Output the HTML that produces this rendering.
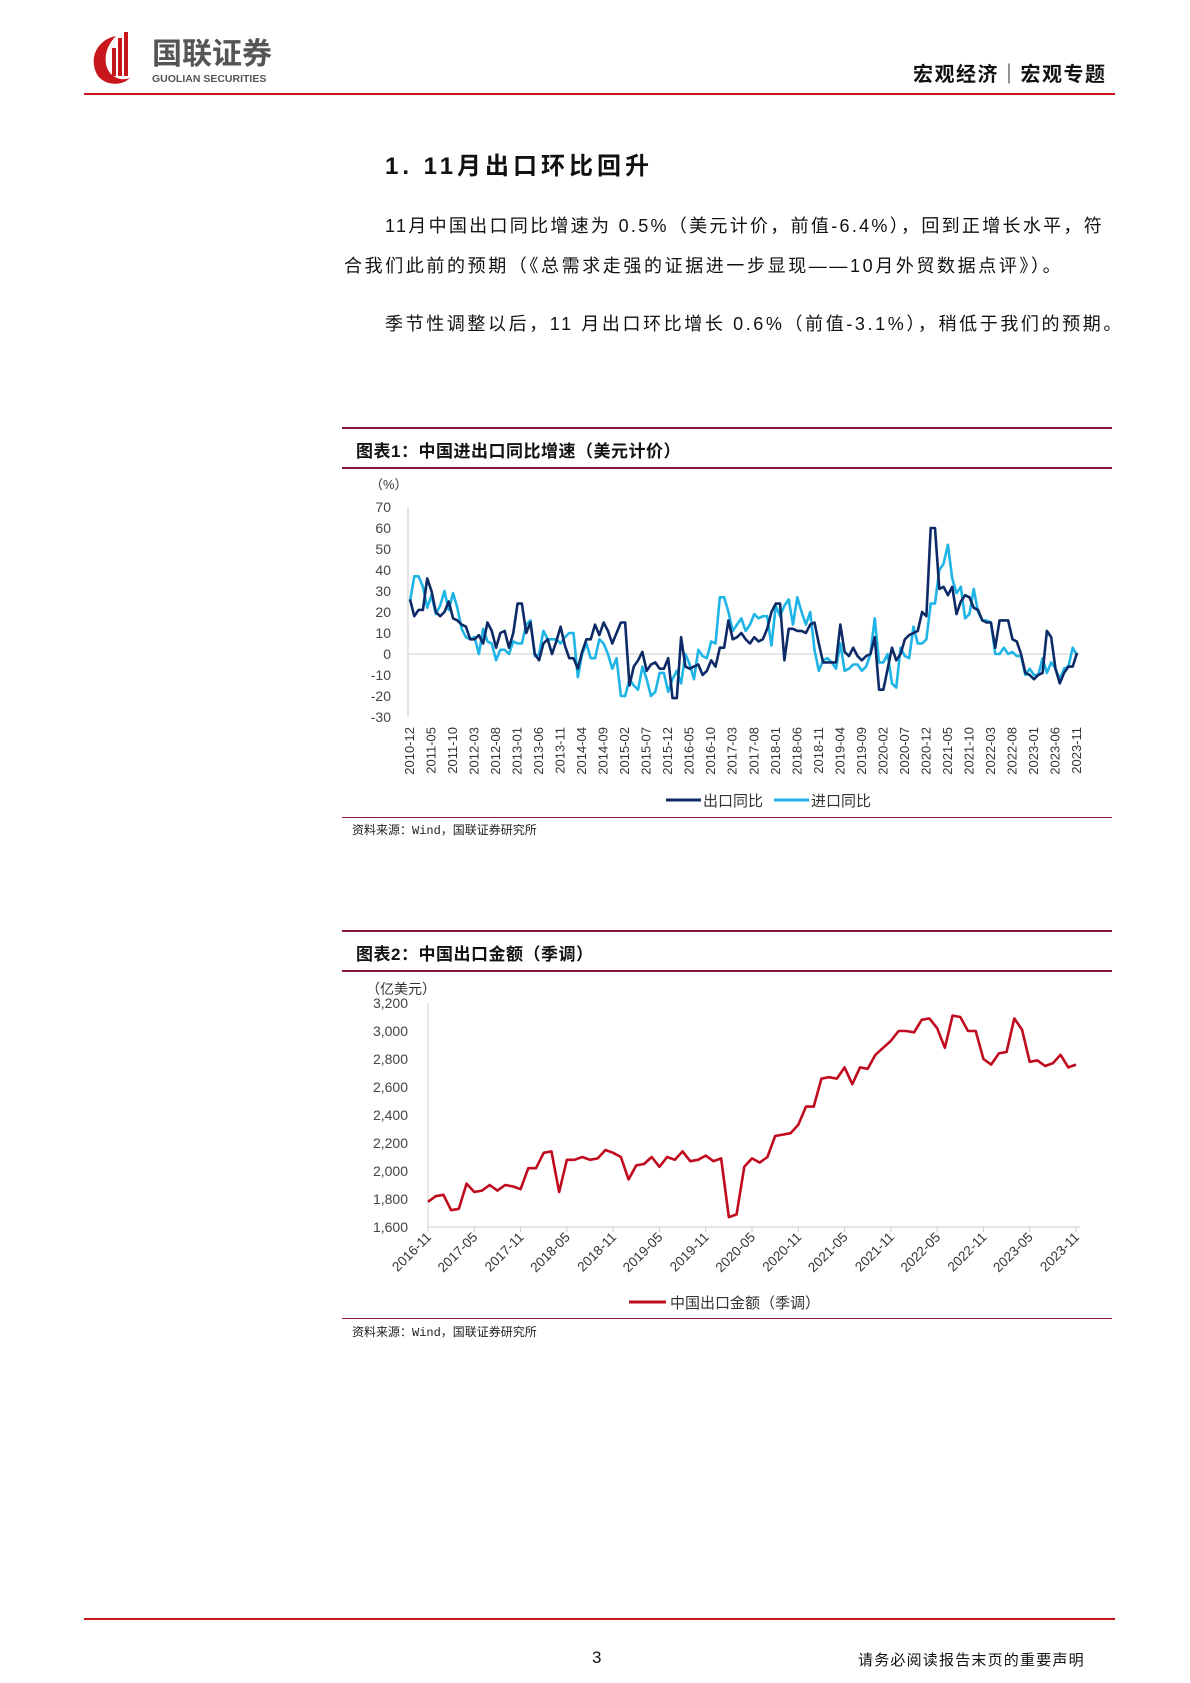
<!DOCTYPE html>
<html><head><meta charset="utf-8">
<style>
body{margin:0;background:#fff;}
#page{position:relative;width:1190px;height:1683px;overflow:hidden;background:#fff;font-family:"Liberation Sans","Noto Sans CJK SC",sans-serif;color:#111;}
.abs{position:absolute;}
.p{font-size:18px;letter-spacing:2.3px;white-space:nowrap;}
.rule{position:absolute;left:342px;width:770px;height:1.5px;background:#8b1a3a;}
.ctitle{position:absolute;left:356px;font-size:17px;font-weight:bold;letter-spacing:0.5px;}
.src{position:absolute;left:352px;font-size:12px;font-family:"Liberation Mono","Noto Sans CJK SC",monospace;color:#222;}
</style></head>
<body><div id="page">
<svg class="abs" style="left:86px;top:30px" width="220" height="60">
<path d="M30 6 C10 10 2 30 12 46 C20 56 36 56 44 48 C34 52 22 46 20 34 C18 22 24 12 30 6Z" fill="#c8161d"/>
<rect x="32" y="8" width="4" height="38" fill="#c8161d"/><rect x="38" y="2" width="4" height="44" fill="#c8161d"/><rect x="26" y="18" width="4" height="28" fill="#c8161d"/>
<text x="66" y="34" font-size="30" font-weight="bold" fill="#555" font-family="Noto Sans CJK SC,sans-serif">国联证券</text>
<text x="66" y="52" font-size="10.5" font-weight="bold" fill="#555" font-family="Liberation Sans,sans-serif">GUOLIAN SECURITIES</text>
</svg>
<div class="abs" style="left:913px;top:58px;font-size:20px;font-weight:bold;letter-spacing:1.5px">宏观经济｜宏观专题</div>
<div class="abs" style="left:84px;top:93px;width:1031px;height:2px;background:#c8161d"></div>
<div class="abs" style="left:385px;top:146px;font-size:24px;font-weight:bold;letter-spacing:4px">1. 11月出口环比回升</div>
<div class="abs p" style="left:385px;top:212px">11月中国出口同比增速为 0.5%（美元计价，前值-6.4%），回到正增长水平，符</div>
<div class="abs p" style="left:344px;top:252px;letter-spacing:2.6px">合我们此前的预期（《总需求走强的证据进一步显现——10月外贸数据点评》）。</div>
<div class="abs p" style="left:385px;top:310px;letter-spacing:2.6px">季节性调整以后，11 月出口环比增长 0.6%（前值-3.1%），稍低于我们的预期。</div>

<div class="rule" style="top:427px"></div>
<div class="ctitle" style="top:437px">图表1：中国进出口同比增速（美元计价）</div>
<div class="rule" style="top:467px"></div>
<svg id="c1" class="abs" style="left:0;top:0" width="1190" height="830"></svg>
<div class="rule" style="top:817px;height:1px"></div>
<div class="src" style="top:821px">资料来源：Wind，国联证券研究所</div>

<div class="rule" style="top:930px"></div>
<div class="ctitle" style="top:940px">图表2：中国出口金额（季调）</div>
<div class="rule" style="top:970px"></div>
<svg id="c2" class="abs" style="left:0;top:0" width="1190" height="1330"></svg>
<div class="rule" style="top:1318px;height:1px"></div>
<div class="src" style="top:1323px">资料来源：Wind，国联证券研究所</div>

<div class="abs" style="left:84px;top:1618px;width:1031px;height:1.5px;background:#c8161d"></div>
<div class="abs" style="left:592px;top:1648px;font-size:17px">3</div>
<div class="abs" style="left:858px;top:1649px;font-size:15px;letter-spacing:1.2px">请务必阅读报告末页的重要声明</div>
</div>
<script>
const exportYoY=[26,
18,21,21,36,30,20,18,20,25,17,16,14,
13,7,7,9,5,15,11,3,10,11,3,10,
24,24,10,15,0,-3,5,7,0,6,13,4,
-2,-2,-7,1,7,7,14,9,15,11,5,10,
15,15,-15,-6,-3,1,-8,-5,-4,-7,-7,-2,
-21,-21,8,-6,-7,-6,-5,-10,-8,-3,-6,3,
3,16,7,8,10,7,5,8,6,7,12,20,
24,24,-3,12,12,11,11,10,14,15,5,-4,
-4,-4,-4,14,1,-1,3,-1,-3,-1,0,8,
-17,-17,-7,3,-3,0,7,9,10,11,20,18,
60,60,31,32,28,32,19,25,28,27,22,21,
16,15,15,3,16,16,16,7,6,0,-9,-10,
-12,-10,-9,11,8,-7,-14,-9,-6,-6,0.5];
const importYoY=[25,
37,37,32,22,28,19,23,30,21,29,22,12,
8,7,8,0,12,6,5,-3,2,2,0,6,
5,5,14,16,-1,0,11,7,7,7,5,8,
10,10,-11,0,5,-2,-2,7,5,0,-7,-2,
-20,-20,-12,-15,-17,-6,-12,-20,-18,-9,-9,-18,
-12,-8,-14,0,-5,-12,2,-1,-2,6,5,27,
27,20,11,14,17,11,14,19,17,18,18,4,
23,18,23,26,14,27,20,14,20,2,-8,-3,
-2,-4,-7,5,-8,-7,-5,-5,-8,-6,0,17,
-4,-4,0,-14,-16,3,-1,-2,13,5,5,7,
24,24,40,43,52,36,29,32,17,19,31,20,
16,16,15,0,0,3,0,1,-1,-1,-10,-7,
-10,-10,-2,-9,-4,-7,-12,-7,-6,3,-0.6];
const yTicks1=[70,60,50,40,30,20,10,0,-10,-20,-30];
const exportValue=[1780,1820,
1830,1720,1730,1910,1850,1860,1900,1860,1900,1890,1870,2020,
2020,2130,2140,1850,2080,2080,2100,2080,2090,2150,2130,2100,
1940,2040,2050,2100,2030,2100,2080,2140,2070,2080,2110,2070,
2090,1670,1690,2030,2090,2060,2100,2250,2260,2270,2330,2460,
2460,2660,2670,2660,2740,2620,2740,2730,2830,2880,2930,3000,
3000,2990,3080,3090,3020,2880,3110,3100,3000,3000,2800,2760,
2840,2850,3090,3010,2780,2790,2750,2770,2830,2740,2760];
const yTicks2=[3200,3000,2800,2600,2400,2200,2000,1800,1600];
const NS='http://www.w3.org/2000/svg';
function mk(svg,tag,attrs,txt){const e=document.createElementNS(NS,tag);for(const k in attrs)e.setAttribute(k,attrs[k]);if(txt!==undefined)e.textContent=txt;svg.appendChild(e);return e;}
function lbl(y,m){return y+'-'+String(m).padStart(2,'0');}
(function(){
const s=document.getElementById('c1');
const X=i=>410+i*(1077-410)/155, Y=v=>717-(v+30)*2.1;
const t=mk(s,'text',{x:370,y:489,'font-size':13,fill:'#333'},'（%）');


const ax=mk(s,'line',{x1:408,y1:Y(70),x2:408,y2:Y(-30),stroke:'#ccc'});


const z=mk(s,'line',{x1:408,y1:Y(0),x2:1080,y2:Y(0),stroke:'#ccc'});


yTicks1.forEach(v=>{const e=mk(s,'text',{x:391,y:Y(v)+5,'font-size':14,fill:'#444','text-anchor':'end'},v);

});
for(let i=0;i<156;i+=5){const mo=11+i,yr=2010+Math.floor(mo/12),m=mo%12+1;
const e=mk(s,'text',{x:0,y:0,'font-size':13,fill:'#333','text-anchor':'end',transform:`translate(${X(i)+4},${727}) rotate(-90)`},lbl(yr,m));

}
[[importYoY,'#1fb4e6','import-yoy-line'],[exportYoY,'#0d2a66','export-yoy-line']].forEach(([d,c,n])=>{
const p=mk(s,'polyline',{points:d.map((v,i)=>X(i)+','+Y(v)).join(' '),fill:'none',stroke:c,'stroke-width':2.6,'stroke-linejoin':'round'});

});
const l1=mk(s,'line',{x1:666,y1:800,x2:701,y2:800,stroke:'#0d2a66','stroke-width':3});


const t1=mk(s,'text',{x:703,y:806,'font-size':15,fill:'#333'},'出口同比');


const l2=mk(s,'line',{x1:774,y1:800,x2:809,y2:800,stroke:'#1fb4e6','stroke-width':3});


const t2=mk(s,'text',{x:811,y:806,'font-size':15,fill:'#333'},'进口同比');


})();
(function(){
const s=document.getElementById('c2');
const X=i=>428+i*(1076-428)/84, Y=v=>1227-(v-1600)*0.14;
const t=mk(s,'text',{x:366,y:994,'font-size':14,fill:'#333'},'（亿美元）');


const ax=mk(s,'line',{x1:428,y1:Y(3200),x2:428,y2:Y(1600),stroke:'#ccc'});


const bx=mk(s,'line',{x1:428,y1:Y(1600),x2:1080,y2:Y(1600),stroke:'#ccc'});


yTicks2.forEach(v=>{const e=mk(s,'text',{x:408,y:Y(v)+5,'font-size':14,fill:'#444','text-anchor':'end'},v.toLocaleString('en-US'));

});
for(let i=0;i<85;i+=6){const mo=10+i,yr=2016+Math.floor(mo/12),m=mo%12+1;
const tk=mk(s,'line',{x1:X(i),y1:1227,x2:X(i),y2:1232,stroke:'#ccc'});


const e=mk(s,'text',{x:0,y:0,'font-size':13.5,fill:'#333','text-anchor':'end',transform:`translate(${X(i)+4},${1238}) rotate(-45)`},lbl(yr,m));

}
const p=mk(s,'polyline',{points:exportValue.map((v,i)=>X(i)+','+Y(v)).join(' '),fill:'none',stroke:'#c00a1e','stroke-width':2.6,'stroke-linejoin':'round'});


const l=mk(s,'line',{x1:629,y1:1302,x2:666,y2:1302,stroke:'#c00a1e','stroke-width':3});


const lt=mk(s,'text',{x:670,y:1308,'font-size':15,fill:'#333'},'中国出口金额（季调）');


})();
</script>
</body></html>
